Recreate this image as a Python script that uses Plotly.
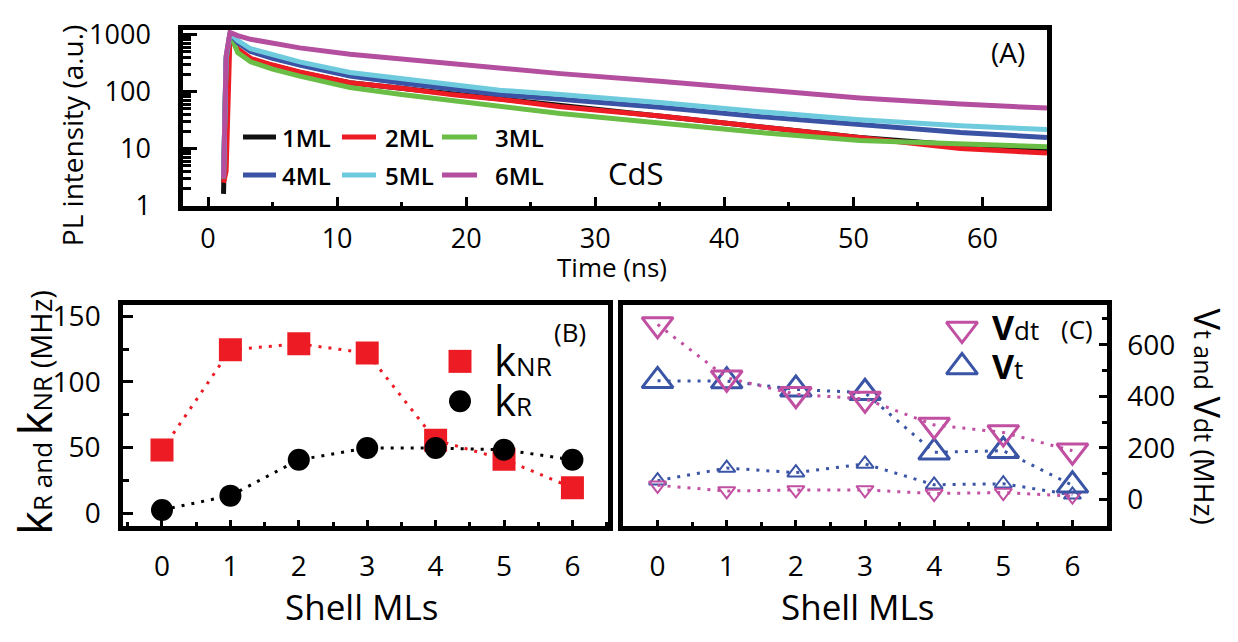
import plotly.graph_objects as go

W, H = 1238, 642          # browser window
OFF = 8                   # default page body margin
FW, FH = W - 2 * OFF, H - 2 * OFF
FONT = "Open Sans"

# ---------------- data ----------------
# Panel A: PL decay traces (time in ns, intensity a.u.)
t_ns = [1.2, 1.4, 1.7, 2.3, 3.3, 5, 7.1, 11, 15, 19, 22.6, 27.3, 35, 42.8, 50.5, 58.3, 65]
pl_1ML = [1.6, 300, 1000, 520, 360, 280, 215, 142, 114, 89, 75, 56, 38, 24.5, 15.6, 11.4, 9.4]
pl_2ML = [2.5, 4, 950, 560, 380, 290, 220, 142, 114, 87, 73, 54, 37, 24, 15, 10, 8.3]
pl_3ML = [3, 350, 1050, 480, 330, 245, 185, 117, 88, 68, 56, 41, 28, 19, 13.8, 12.1, 10.7]
pl_4ML = [3, 380, 1040, 720, 500, 380, 290, 186, 141, 112, 88, 73, 53, 36, 26, 19, 15.6]
pl_5ML = [3, 400, 1050, 780, 560, 440, 330, 215, 167, 132, 105, 88, 64, 44, 32, 25, 21.5]
pl_6ML = [3, 420, 1080, 950, 820, 700, 580, 450, 372, 305, 262, 205, 151, 107, 77, 60, 51]
series_names = ["1ML", "2ML", "3ML", "4ML", "5ML", "6ML"]

# Panel B: rates vs shell MLs
shell = [0, 1, 2, 3, 4, 5, 6]
k_NR = [48, 124.5, 129, 122, 55.6, 41, 19.3]
k_R = [2.4, 13.3, 40.6, 49.6, 49.6, 48.3, 40.6]

# Panel C
V_dt_big = [679, 472, 408, 390, 289, 260, 189]
V_t_big = [460, 459, 427, 414, 183, 189, 55]
V_t_small = [73, 122, 104, 138, 57, 61, 18]
V_dt_small = [55, 33, 37, 37, 23, 27, 13]

xA_ticks = [0, 10, 20, 30, 40, 50, 60]
yA_ticks = [1, 10, 100, 1000]
yB_ticks = [0, 50, 100, 150]
yC_ticks = [0, 200, 400, 600]

# ---------------- styles ----------------
col_A = {"1ML": "#111111", "2ML": "#ED1C24", "3ML": "#6ABD45",
         "4ML": "#3A53A4", "5ML": "#6DCBDD", "6ML": "#B44FA0"}
RED = "#ED1C24"
MAG = "#C150A2"
BLUE = "#3A54A6"
DOT = "3px,7px"


def fx(px):
    return (px - OFF) / FW


def fy(py):
    return 1 - (py - OFF) / FH


fig = go.Figure()

# Panel A traces
for name, vals in zip(series_names, [pl_1ML, pl_2ML, pl_3ML, pl_4ML, pl_5ML, pl_6ML]):
    fig.add_trace(go.Scatter(x=t_ns, y=vals, mode="lines", name=name,
                             line=dict(color=col_A[name], width=5),
                             xaxis="x", yaxis="y", showlegend=False))

# Panel B traces
fig.add_trace(go.Scatter(x=shell, y=k_NR, mode="lines+markers",
                         line=dict(color=RED, width=3, dash=DOT),
                         marker=dict(symbol="square", size=23, color=RED),
                         xaxis="x2", yaxis="y2", showlegend=False))
fig.add_trace(go.Scatter(x=shell, y=k_R, mode="lines+markers",
                         line=dict(color="black", width=3, dash=DOT),
                         marker=dict(symbol="circle", size=22, color="black"),
                         xaxis="x2", yaxis="y2", showlegend=False))

# Panel C traces
for vals, sym, col, size, lw in [
        (V_t_small, "triangle-up-open", BLUE, 15, 2),
        (V_dt_small, "triangle-down-open", MAG, 15, 2),
        (V_t_big, "triangle-up-open", BLUE, 27, 3),
        (V_dt_big, "triangle-down-open", MAG, 27, 3)]:
    fig.add_trace(go.Scatter(x=shell, y=vals, mode="lines+markers",
                             line=dict(color=col, width=3, dash=DOT),
                             marker=dict(symbol=sym, size=size, color=col,
                                         line=dict(color=col, width=lw)),
                             xaxis="x3", yaxis="y3", showlegend=False))

# Legend keys on a full-figure pixel overlay (window pixel coordinates)
leg_rows = [128, 168]
leg_cols = [(243, 276), (342, 376), (442, 477)]
for i, name in enumerate(series_names):
    r, c = divmod(i, 3)
    fig.add_trace(go.Scatter(x=list(leg_cols[c]), y=[leg_rows[r]] * 2, mode="lines",
                             line=dict(color=col_A[name], width=5),
                             xaxis="x4", yaxis="y4", showlegend=False, hoverinfo="skip"))
fig.add_trace(go.Scatter(x=[460], y=[364], mode="markers",
                         marker=dict(symbol="square", size=23, color=RED),
                         xaxis="x4", yaxis="y4", showlegend=False, hoverinfo="skip"))
fig.add_trace(go.Scatter(x=[460], y=[406], mode="markers",
                         marker=dict(symbol="circle", size=22, color="black"),
                         xaxis="x4", yaxis="y4", showlegend=False, hoverinfo="skip"))
fig.add_trace(go.Scatter(x=[962], y=[330], mode="markers",
                         marker=dict(symbol="triangle-down-open", size=27, color=MAG,
                                     line=dict(color=MAG, width=3)),
                         xaxis="x4", yaxis="y4", showlegend=False, hoverinfo="skip"))
fig.add_trace(go.Scatter(x=[962], y=[370], mode="markers",
                         marker=dict(symbol="triangle-up-open", size=27, color=BLUE,
                                     line=dict(color=BLUE, width=3)),
                         xaxis="x4", yaxis="y4", showlegend=False, hoverinfo="skip"))

frame = dict(showline=True, linecolor="black", linewidth=4.5, mirror=True,
             showgrid=False, zeroline=False, ticks="inside", tickcolor="black")

fig.update_layout(
    width=FW, height=FH,
    margin=dict(l=0, r=0, t=0, b=0),
    paper_bgcolor="white", plot_bgcolor="rgba(0,0,0,0)",
    font=dict(family=FONT, color="black"),
    xaxis=dict(domain=[fx(183), fx(1047)], range=[-1.94, 65.0], anchor="y",
               tickvals=xA_ticks, ticklen=10, tickwidth=3,
               minor=dict(ticks="inside", dtick=5, tick0=0, ticklen=5, tickwidth=3, tickcolor="black"),
               tickfont=dict(size=27), ticklabelstandoff=4, **frame),
    yaxis=dict(domain=[fy(201), fy(15)], type="log", range=[-0.017, 3.083], anchor="x",
               tickvals=yA_ticks, ticktext=[str(v) for v in yA_ticks], ticklen=14, tickwidth=3,
               minor=dict(ticks="inside", dtick="D1", ticklen=8, tickwidth=2.5, tickcolor="black"),
               tickfont=dict(size=27), ticklabelstandoff=22, **frame),
    xaxis2=dict(domain=[fx(123), fx(608)], range=[-0.57, 6.52], anchor="y2",
                tickvals=shell, ticklen=6, tickwidth=3,
                minor=dict(ticks="inside", dtick=0.5, tick0=0, ticklen=4, tickwidth=3, tickcolor="black"),
                tickfont=dict(size=28), ticklabelstandoff=12, **frame),
    yaxis2=dict(domain=[fy(537), fy(305)], range=[-9.7, 158.4], anchor="x2",
                tickvals=yB_ticks, ticklen=10, tickwidth=3,
                minor=dict(ticks="inside", dtick=25, tick0=0, ticklen=6, tickwidth=3, tickcolor="black"),
                tickfont=dict(size=28), ticklabelstandoff=12, **frame),
    xaxis3=dict(domain=[fx(623), fx(1107)], range=[-0.5, 6.5], anchor="y3",
                tickvals=shell, ticklen=6, tickwidth=3,
                minor=dict(ticks="inside", dtick=0.5, tick0=0, ticklen=4, tickwidth=3, tickcolor="black"),
                tickfont=dict(size=28), ticklabelstandoff=12, **frame),
    yaxis3=dict(domain=[fy(537), fy(305)], range=[-102, 753], anchor="x3", side="right",
                tickvals=yC_ticks, ticklen=8, tickwidth=3,
                minor=dict(ticks="inside", dtick=100, tick0=0, ticklen=5, tickwidth=3, tickcolor="black"),
                tickfont=dict(size=28), ticklabelstandoff=10, **frame),
    xaxis4=dict(domain=[0, 1], range=[OFF, OFF + FW], visible=False, anchor="y4", fixedrange=True),
    yaxis4=dict(domain=[0, 1], range=[OFF + FH, OFF], visible=False, anchor="x4", fixedrange=True),
)


def ann(text, x, y, size, xanchor="center", angle=0, weight=None):
    f = dict(family=FONT, size=size, color="black")
    if weight:
        f["weight"] = weight
    fig.add_annotation(text=text, x=fx(x), y=fy(y), xref="paper", yref="paper",
                       showarrow=False, xanchor=xanchor, yanchor="middle",
                       textangle=angle, font=f)


# Panel A texts
ann("PL intensity (a.u.)", 72, 126, 28, angle=-90)
ann("Time (ns)", 612, 265, 26)
ann("(A)", 1008, 38, 28)
ann("CdS", 636, 166, 31)
leg_text_x = [280, 383, 493]
for i, name in enumerate(series_names):
    r, c = divmod(i, 3)
    ann(name, leg_text_x[c], leg_rows[r], 24, xanchor="left", weight=600)

# Panel B texts
ann("<span style='font-size:45px'>k</span><span style='font-size:26px'>R and </span>"
    "<span style='font-size:45px'>k</span><span style='font-size:26px'>NR</span>"
    "<span style='font-size:29px'> (MHz)</span>", 35, 418, 29, angle=-90)
ann("Shell MLs", 362, 622, 35)
ann("(B)", 570, 333, 26)
ann("<span style='font-size:42px'>k</span><span style='font-size:26px'>NR</span>", 492, 362, 26, xanchor="left")
ann("<span style='font-size:42px'>k</span><span style='font-size:26px'>R</span>", 492, 404, 26, xanchor="left")

# Panel C texts
ann("Shell MLs", 858, 622, 35)
ann("(C)", 1077, 330, 26)
ann("<b><span style='font-size:34px'>V</span></b><span style='font-size:26px'>dt</span>", 990, 328, 26, xanchor="left")
ann("<b><span style='font-size:34px'>V</span></b><span style='font-size:26px'>t</span>", 990, 369, 26, xanchor="left")
ann("<span style='font-size:36px'>V</span><span style='font-size:25px'>t and </span>"
    "<span style='font-size:36px'>V</span><span style='font-size:25px'>dt</span>"
    "<span style='font-size:28px'> (MHz)</span>", 1208, 422, 28, angle=90)

fig.write_html("out.html")
